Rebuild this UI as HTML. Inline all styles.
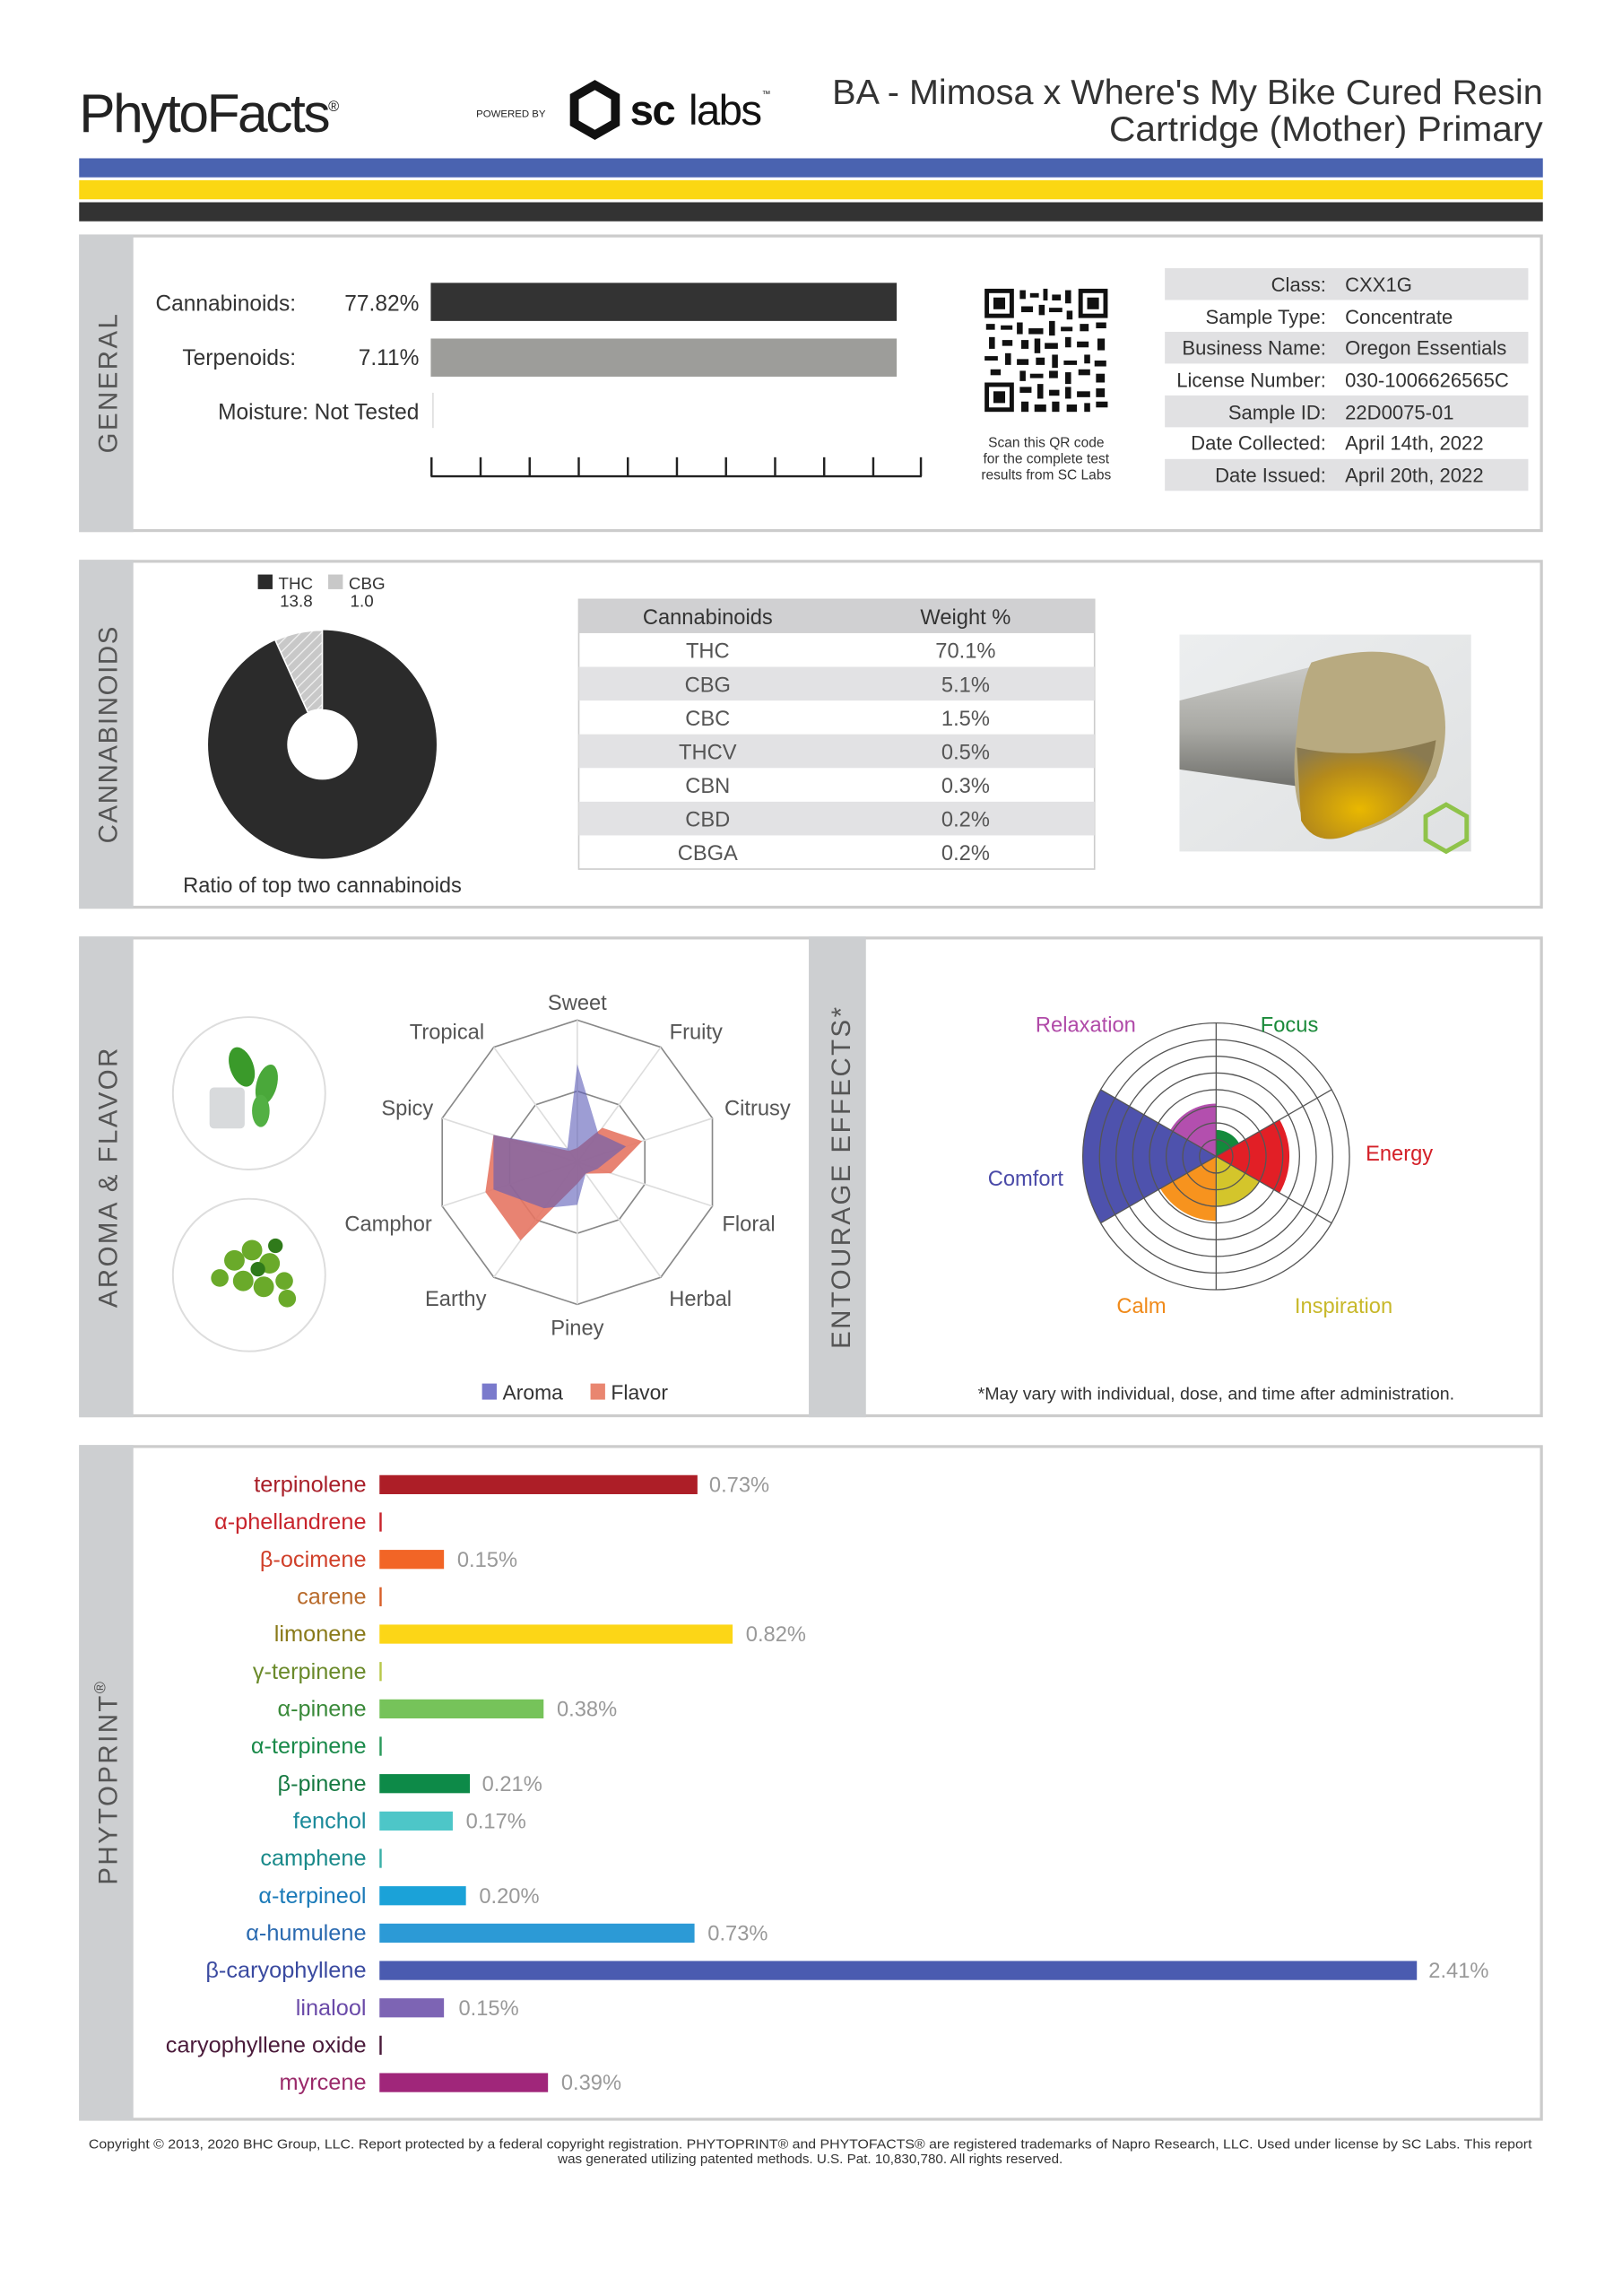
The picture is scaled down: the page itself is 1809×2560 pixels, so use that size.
<!DOCTYPE html>
<html><head><meta charset="utf-8"><style>
html,body{margin:0;padding:0;background:#fff;width:1809px;height:2560px;overflow:hidden}
svg{display:block}
text{font-family:"Liberation Sans",sans-serif}
</style></head><body>
<svg width="1809" height="2560" viewBox="0 0 1107 1566.6" preserveAspectRatio="none" xmlns="http://www.w3.org/2000/svg">
<defs>
<pattern id="hatch" width="5" height="5" patternUnits="userSpaceOnUse" patternTransform="rotate(45)">
<rect width="5" height="5" fill="#c8c8c8"/><line x1="0" y1="0" x2="0" y2="5" stroke="#f2f2f2" stroke-width="1.5"/></pattern>
<linearGradient id="bg" x1="0" y1="0" x2="1" y2="1"><stop offset="0" stop-color="#eceeef"/><stop offset="1" stop-color="#dfe1e2"/></linearGradient>
<linearGradient id="metal" x1="0" y1="0" x2="0" y2="1"><stop offset="0" stop-color="#c9c9c6"/><stop offset=".5" stop-color="#a9a9a4"/><stop offset="1" stop-color="#6c6c68"/></linearGradient>
<radialGradient id="resin" cx=".45" cy=".7" r=".7"><stop offset="0" stop-color="#e9b800"/><stop offset=".6" stop-color="#b58a1a"/><stop offset="1" stop-color="#8a7a50"/></radialGradient>
</defs>
<rect width="1107" height="1566.6" fill="#fff"/>

<!-- header -->
<text x="54" y="90" font-size="37" fill="#222" letter-spacing="-1.5">PhytoFacts<tspan font-size="10" dy="-14">®</tspan></text>
<text x="325" y="80" font-size="7" fill="#222">POWERED BY</text>
<polygon points="406,58 420,66 420,84 406,92 392,84 392,66" fill="none" stroke="#111" stroke-width="6"/>
<text x="430" y="85" font-size="29" fill="#111" font-weight="bold" letter-spacing="-1">sc</text>
<text x="470" y="85" font-size="29" fill="#111" letter-spacing="-1">labs</text>
<text x="520" y="66" font-size="6" fill="#111">™</text>
<text x="1053" y="71" font-size="24" fill="#333" text-anchor="end" textLength="485" lengthAdjust="spacingAndGlyphs">BA - Mimosa x Where's My Bike Cured Resin</text>
<text x="1053" y="96" font-size="24" fill="#333" text-anchor="end" textLength="296" lengthAdjust="spacingAndGlyphs">Cartridge (Mother) Primary</text>
<rect x="54" y="108" width="999" height="13" fill="#4a63b0"/>
<rect x="54" y="123" width="999" height="13" fill="#fbd713"/>
<rect x="54" y="138" width="999" height="13" fill="#333"/>

<!-- GENERAL -->
<rect x="55" y="161" width="997" height="201" fill="#fff" stroke="#ccc" stroke-width="2"/>
<rect x="54" y="160" width="37" height="203" fill="#cdcfd1"/>
<text transform="translate(80,261) rotate(-90)" font-size="18" fill="#555" text-anchor="middle" letter-spacing="1.5">GENERAL</text>
<g font-size="15" fill="#333">
<text x="202" y="212" text-anchor="end">Cannabinoids:</text><text x="286" y="212" text-anchor="end">77.82%</text>
<text x="202" y="249" text-anchor="end">Terpenoids:</text><text x="286" y="249" text-anchor="end">7.11%</text>
<text x="286" y="286" text-anchor="end">Moisture:  Not Tested</text>
</g>
<rect x="294" y="193" width="318" height="26" fill="#333"/>
<rect x="294" y="231" width="318" height="26" fill="#9d9d9a"/>
<line x1="295.5" y1="268" x2="295.5" y2="292" stroke="#ddd" stroke-width="1"/>
<g stroke="#222" stroke-width="1.5">
<line x1="294" y1="325" x2="629" y2="325"/>
<line x1="294.5" y1="312" x2="294.5" y2="325"/><line x1="328" y1="312" x2="328" y2="325"/><line x1="361.5" y1="312" x2="361.5" y2="325"/><line x1="395" y1="312" x2="395" y2="325"/><line x1="428.5" y1="312" x2="428.5" y2="325"/><line x1="462" y1="312" x2="462" y2="325"/><line x1="495.5" y1="312" x2="495.5" y2="325"/><line x1="529" y1="312" x2="529" y2="325"/><line x1="562.5" y1="312" x2="562.5" y2="325"/><line x1="596" y1="312" x2="596" y2="325"/><line x1="628.5" y1="312" x2="628.5" y2="325"/>
</g>
<!-- QR -->
<g fill="#111">
<rect x="672" y="197" width="84" height="84" fill="#fff"/>
<rect x="672" y="197" width="20" height="20"/><rect x="675" y="200" width="14" height="14" fill="#fff"/><rect x="678" y="203" width="8" height="8"/>
<rect x="736" y="197" width="20" height="20"/><rect x="739" y="200" width="14" height="14" fill="#fff"/><rect x="742" y="203" width="8" height="8"/>
<rect x="672" y="261" width="20" height="20"/><rect x="675" y="264" width="14" height="14" fill="#fff"/><rect x="678" y="267" width="8" height="8"/>
<rect x="696" y="198" width="4" height="6"/><rect x="703" y="200" width="6" height="3"/><rect x="712" y="197" width="3" height="8"/><rect x="718" y="201" width="6" height="4"/><rect x="727" y="198" width="4" height="9"/>
<rect x="697" y="209" width="8" height="4"/><rect x="709" y="208" width="4" height="7"/><rect x="716" y="210" width="9" height="3"/><rect x="728" y="212" width="4" height="6"/>
<rect x="673" y="221" width="6" height="4"/><rect x="683" y="222" width="8" height="3"/><rect x="694" y="220" width="4" height="8"/><rect x="702" y="224" width="10" height="4"/><rect x="716" y="219" width="4" height="10"/><rect x="724" y="223" width="8" height="3"/><rect x="737" y="221" width="6" height="5"/><rect x="748" y="220" width="7" height="4"/>
<rect x="675" y="230" width="4" height="8"/><rect x="684" y="232" width="7" height="4"/><rect x="697" y="232" width="5" height="6"/><rect x="706" y="231" width="4" height="10"/><rect x="713" y="234" width="9" height="4"/><rect x="727" y="230" width="4" height="7"/><rect x="735" y="233" width="8" height="4"/><rect x="749" y="231" width="5" height="8"/>
<rect x="672" y="243" width="9" height="3"/><rect x="686" y="241" width="4" height="8"/><rect x="694" y="245" width="8" height="4"/><rect x="707" y="244" width="6" height="5"/><rect x="718" y="242" width="4" height="9"/><rect x="726" y="246" width="9" height="3"/><rect x="740" y="242" width="4" height="6"/><rect x="747" y="246" width="8" height="4"/>
<rect x="676" y="252" width="7" height="4"/><rect x="696" y="253" width="4" height="7"/><rect x="703" y="255" width="9" height="3"/><rect x="716" y="253" width="6" height="5"/><rect x="727" y="254" width="4" height="8"/><rect x="736" y="252" width="8" height="4"/><rect x="748" y="255" width="6" height="6"/>
<rect x="696" y="264" width="8" height="4"/><rect x="708" y="262" width="4" height="10"/><rect x="716" y="266" width="7" height="4"/><rect x="727" y="264" width="4" height="8"/><rect x="735" y="267" width="9" height="4"/><rect x="748" y="265" width="6" height="6"/>
<rect x="697" y="274" width="5" height="7"/><rect x="706" y="276" width="8" height="5"/><rect x="718" y="274" width="5" height="7"/><rect x="728" y="276" width="7" height="5"/><rect x="740" y="275" width="4" height="6"/><rect x="748" y="274" width="8" height="4"/>
</g>
<g font-size="9.5" fill="#333" text-anchor="middle">
<text x="714" y="305">Scan this QR code</text><text x="714" y="316">for the complete test</text><text x="714" y="327">results from SC Labs</text>
</g>
<!-- info table -->
<rect x="795" y="183" width="248" height="21.7" fill="#e1e1e3"/>
<rect x="795" y="226.4" width="248" height="21.7" fill="#e1e1e3"/>
<rect x="795" y="269.8" width="248" height="21.7" fill="#e1e1e3"/>
<rect x="795" y="313.2" width="248" height="21.7" fill="#e1e1e3"/>
<g font-size="13.5" fill="#333">
<text x="905" y="199" text-anchor="end">Class:</text><text x="918" y="199">CXX1G</text>
<text x="905" y="221" text-anchor="end">Sample Type:</text><text x="918" y="221">Concentrate</text>
<text x="905" y="242" text-anchor="end">Business Name:</text><text x="918" y="242">Oregon Essentials</text>
<text x="905" y="264" text-anchor="end">License Number:</text><text x="918" y="264">030-1006626565C</text>
<text x="905" y="286" text-anchor="end">Sample ID:</text><text x="918" y="286">22D0075-01</text>
<text x="905" y="307" text-anchor="end">Date Collected:</text><text x="918" y="307">April 14th, 2022</text>
<text x="905" y="329" text-anchor="end">Date Issued:</text><text x="918" y="329">April 20th, 2022</text>
</g>

<!-- CANNABINOIDS -->
<rect x="55" y="383" width="997" height="236" fill="#fff" stroke="#ccc" stroke-width="2"/>
<rect x="54" y="382" width="37" height="238" fill="#cdcfd1"/>
<text transform="translate(80,501) rotate(-90)" font-size="18" fill="#555" text-anchor="middle" letter-spacing="1">CANNABINOIDS</text>
<rect x="176" y="392" width="10" height="10" fill="#2b2b2b"/>
<text x="190" y="402" font-size="11.5" fill="#333">THC</text>
<text x="191" y="414" font-size="11.5" fill="#333">13.8</text>
<rect x="224" y="392" width="10" height="10" fill="#c8c8c8"/>
<text x="238" y="402" font-size="11.5" fill="#333">CBG</text>
<text x="239" y="414" font-size="11.5" fill="#333">1.0</text>
<circle cx="220" cy="508" r="51" fill="none" stroke="#2b2b2b" stroke-width="54"/>
<path d="M220,430 A78,78 0 0 0 187.9,436.9 L210.1,486.1 A24,24 0 0 1 220,484 Z" fill="url(#hatch)" stroke="#fff" stroke-width="1"/>
<text x="220" y="609" font-size="14.5" fill="#333" text-anchor="middle">Ratio of top two cannabinoids</text>
<!-- table -->
<rect x="395" y="409" width="352" height="184" fill="#fff" stroke="#ccc" stroke-width="1"/>
<rect x="395" y="409" width="352" height="23" fill="#d0d0d2"/>
<rect x="395" y="455" width="352" height="23" fill="#e2e2e4"/>
<rect x="395" y="501" width="352" height="23" fill="#e2e2e4"/>
<rect x="395" y="547" width="352" height="23" fill="#e2e2e4"/>
<g font-size="14.5" fill="#333" text-anchor="middle">
<text x="483" y="426">Cannabinoids</text><text x="659" y="426">Weight %</text>
</g>
<g font-size="14.5" fill="#555" text-anchor="middle">
<text x="483" y="449">THC</text><text x="659" y="449">70.1%</text>
<text x="483" y="472">CBG</text><text x="659" y="472">5.1%</text>
<text x="483" y="495">CBC</text><text x="659" y="495">1.5%</text>
<text x="483" y="518">THCV</text><text x="659" y="518">0.5%</text>
<text x="483" y="541">CBN</text><text x="659" y="541">0.3%</text>
<text x="483" y="564">CBD</text><text x="659" y="564">0.2%</text>
<text x="483" y="587">CBGA</text><text x="659" y="587">0.2%</text>
</g>
<!-- photo -->
<rect x="805" y="433" width="199" height="148" fill="url(#bg)"/>
<path d="M805,478 L895,455 L910,540 L805,525 Z" fill="url(#metal)"/>
<path d="M895,452 Q945,436 975,455 Q995,490 980,530 Q960,560 925,568 Q900,580 890,560 Q880,540 885,500 Q888,465 895,452 Z" fill="#b8aa80"/>
<path d="M885,510 Q930,520 980,505 Q975,550 930,565 Q900,582 888,560 Z" fill="url(#resin)"/>
<polygon points="987,549 1001,557 1001,573 987,581 973,573 973,557" fill="none" stroke="#8fc34a" stroke-width="3"/>

<!-- AROMA & FLAVOR -->
<rect x="55" y="640" width="997" height="326" fill="#fff" stroke="#ccc" stroke-width="2"/>
<rect x="54" y="639" width="37" height="328" fill="#cdcfd1"/>
<rect x="552" y="639" width="39" height="328" fill="#cdcfd1"/>
<text transform="translate(80,803) rotate(-90)" font-size="18" fill="#555" text-anchor="middle" letter-spacing="1.5">AROMA &amp; FLAVOR</text>
<text transform="translate(580,803) rotate(-90)" font-size="18" fill="#555" text-anchor="middle" letter-spacing="1.5">ENTOURAGE EFFECTS*</text>
<circle cx="170" cy="746" r="52" fill="#fff" stroke="#ddd" stroke-width="1.2"/>
<circle cx="170" cy="870" r="52" fill="#fff" stroke="#ddd" stroke-width="1.2"/>
<rect x="143" y="742" width="24" height="28" fill="#d8dadc" rx="3"/>
<ellipse cx="165" cy="728" rx="8" ry="14" fill="#3a9a2a" transform="rotate(-20 165 728)"/>
<ellipse cx="182" cy="740" rx="7" ry="14" fill="#4aa83a" transform="rotate(15 182 740)"/>
<ellipse cx="178" cy="758" rx="6" ry="11" fill="#52b043"/>
<g fill="#6aaa2a"><circle cx="160" cy="860" r="7"/><circle cx="172" cy="853" r="7"/><circle cx="184" cy="862" r="7"/><circle cx="166" cy="874" r="7"/><circle cx="180" cy="878" r="7"/><circle cx="194" cy="874" r="6"/><circle cx="150" cy="872" r="6"/><circle cx="196" cy="886" r="6"/></g>
<g fill="#2f7a1a"><circle cx="176" cy="866" r="5"/><circle cx="188" cy="850" r="5"/></g>
<!-- radar -->
<g fill="none" stroke="#888" stroke-width="1">
<polygon points="394,696 451,714.5 486.2,763 486.2,823 451,871.5 394,890 337,871.5 301.8,823 301.8,763 337,714.5"/>
<polygon points="394,744.5 422.5,753.8 440.1,778 440.1,808 422.5,832.2 394,841.5 365.5,832.2 347.9,808 347.9,778 365.5,753.8"/>
</g>
<g stroke="#ddd" stroke-width="1">
<line x1="394" y1="696" x2="394" y2="890"/><line x1="451" y1="714.5" x2="337" y2="871.5"/><line x1="486.2" y1="763" x2="301.8" y2="823"/><line x1="486.2" y1="823" x2="301.8" y2="763"/><line x1="451" y1="871.5" x2="337" y2="714.5"/>
</g>
<polygon points="394,783.3 411.1,769.5 438.3,778.6 417.1,800.5 399.7,800.8 394,807.6 355.2,846.4 331.3,813.4 336.8,774.4 388.3,785.2" fill="#e57563" opacity=".9"/>
<polygon points="394,726.1 408.3,773.4 427.2,782.2 407.8,797.5 399.7,800.8 394,822.1 371.2,824.4 336.8,811.6 336.8,774.4 387.2,783.6" fill="#5c5cb8" opacity=".6"/>
<g font-size="14.5" fill="#555" text-anchor="middle">
<text x="394" y="689">Sweet</text><text x="475" y="709">Fruity</text><text x="517" y="761">Citrusy</text><text x="511" y="840">Floral</text>
<text x="478" y="891">Herbal</text><text x="394" y="911">Piney</text><text x="311" y="891">Earthy</text><text x="265" y="840">Camphor</text>
<text x="278" y="761">Spicy</text><text x="305" y="709">Tropical</text>
</g>
<rect x="329" y="944" width="10" height="11" fill="#7a7acc"/><text x="343" y="955" font-size="14" fill="#333">Aroma</text>
<rect x="403" y="944" width="10" height="11" fill="#e98670"/><text x="417" y="955" font-size="14" fill="#333">Flavor</text>
<!-- entourage -->
<path d="M830,789 L830,771 A18,18 0 0 1 845.6,780 Z" fill="#138a3c"/>
<path d="M830,789 L873.3,764 A50,50 0 0 1 873.3,814 Z" fill="#e21f26"/>
<path d="M830,789 L859.4,806 A34,34 0 0 1 830,823 Z" fill="#d4c52b"/>
<path d="M830,789 L830,833 A44,44 0 0 1 791.9,811 Z" fill="#f7931e"/>
<path d="M830,789 L751.2,834.5 A91,91 0 0 1 751.2,743.5 Z" fill="#4e52ad"/>
<path d="M830,789 L798.8,771 A36,36 0 0 1 830,753 Z" fill="#b34fae"/>
<g fill="none" stroke="#555" stroke-width=".8">
<circle cx="830" cy="789" r="11.4"/><circle cx="830" cy="789" r="22.8"/><circle cx="830" cy="789" r="34.1"/><circle cx="830" cy="789" r="45.5"/><circle cx="830" cy="789" r="56.9"/><circle cx="830" cy="789" r="68.3"/><circle cx="830" cy="789" r="79.6"/><circle cx="830" cy="789" r="91"/>
<line x1="830" y1="698" x2="830" y2="880"/><line x1="751.2" y1="743.5" x2="908.8" y2="834.5"/><line x1="751.2" y1="834.5" x2="908.8" y2="743.5"/>
</g>
<g font-size="14.5" text-anchor="middle">
<text x="741" y="704" fill="#b04aa8">Relaxation</text><text x="880" y="704" fill="#1a8a3a">Focus</text>
<text x="955" y="792" fill="#d42028">Energy</text><text x="700" y="809" fill="#4a4aa8">Comfort</text>
<text x="779" y="896" fill="#f08a1a">Calm</text><text x="917" y="896" fill="#c8b82a">Inspiration</text>
</g>
<text x="830" y="955" font-size="12" fill="#333" text-anchor="middle">*May vary with individual, dose, and time after administration.</text>

<!-- PHYTOPRINT -->
<rect x="55" y="987" width="997" height="459" fill="#fff" stroke="#ccc" stroke-width="2"/>
<rect x="54" y="986" width="37" height="461" fill="#cdcfd1"/>
<text transform="translate(80,1216) rotate(-90)" font-size="18" fill="#555" text-anchor="middle" letter-spacing="1.5">PHYTOPRINT<tspan font-size="11" dy="-8">®</tspan></text>
<g font-size="15.5" text-anchor="end">
<text x="250" y="1018" fill="#a81e28">terpinolene</text>
<text x="250" y="1043.5" fill="#c8242c">α-phellandrene</text>
<text x="250" y="1069" fill="#d0402a">β-ocimene</text>
<text x="250" y="1094.5" fill="#b86a2a">carene</text>
<text x="250" y="1120" fill="#8a7a1a">limonene</text>
<text x="250" y="1145.5" fill="#6a8a2a">γ-terpinene</text>
<text x="250" y="1171" fill="#3a8a3a">α-pinene</text>
<text x="250" y="1196.5" fill="#1a8a4a">α-terpinene</text>
<text x="250" y="1222" fill="#177a42">β-pinene</text>
<text x="250" y="1247.5" fill="#1a8a9a">fenchol</text>
<text x="250" y="1273" fill="#1a8a8a">camphene</text>
<text x="250" y="1298.5" fill="#1a7ab8">α-terpineol</text>
<text x="250" y="1324" fill="#2a6ab0">α-humulene</text>
<text x="250" y="1349.5" fill="#3a4aa0">β-caryophyllene</text>
<text x="250" y="1375" fill="#6a4aa8">linalool</text>
<text x="250" y="1400.5" fill="#4a1a3a">caryophyllene oxide</text>
<text x="250" y="1426" fill="#9a2a6a">myrcene</text>
</g>
<rect x="259" y="1006.5" width="217" height="13" fill="#ad1e27"/>
<rect x="259" y="1032" width="1.5" height="13" fill="#c8242c"/>
<rect x="259" y="1057.5" width="44" height="13" fill="#f26526"/>
<rect x="259" y="1083" width="1.5" height="13" fill="#d8602a"/>
<rect x="259" y="1108.5" width="241" height="13" fill="#fcd617"/>
<rect x="259" y="1134" width="1.5" height="13" fill="#b8c84a"/>
<rect x="259" y="1159.5" width="112" height="13" fill="#76c35a"/>
<rect x="259" y="1185" width="1.5" height="13" fill="#2a9a5a"/>
<rect x="259" y="1210.5" width="61.7" height="13" fill="#0d8a48"/>
<rect x="259" y="1236" width="50" height="13" fill="#4dc6c8"/>
<rect x="259" y="1261.5" width="1.5" height="13" fill="#3ab0a8"/>
<rect x="259" y="1287" width="59" height="13" fill="#1ba2d8"/>
<rect x="259" y="1312.5" width="215" height="13" fill="#2c9ad6"/>
<rect x="259" y="1338" width="708" height="13" fill="#4a5bb0"/>
<rect x="259" y="1363.5" width="44" height="13" fill="#7d64b4"/>
<rect x="259" y="1389" width="1.5" height="13" fill="#4a1a3a"/>
<rect x="259" y="1414.5" width="115" height="13" fill="#a0267a"/>
<g font-size="14.5" fill="#999">
<text x="484" y="1018">0.73%</text>
<text x="312" y="1069">0.15%</text>
<text x="509" y="1120">0.82%</text>
<text x="380" y="1171">0.38%</text>
<text x="329" y="1222">0.21%</text>
<text x="318" y="1247.5">0.17%</text>
<text x="327" y="1298.5">0.20%</text>
<text x="483" y="1324">0.73%</text>
<text x="975" y="1349.5">2.41%</text>
<text x="313" y="1375">0.15%</text>
<text x="383" y="1426">0.39%</text>
</g>
<g font-size="9.3" fill="#333" text-anchor="middle">
<text x="553" y="1466" textLength="985" lengthAdjust="spacingAndGlyphs">Copyright © 2013, 2020 BHC Group, LLC. Report protected by a federal copyright registration. PHYTOPRINT® and PHYTOFACTS® are registered trademarks of Napro Research, LLC. Used under license by SC Labs. This report</text>
<text x="553" y="1476">was generated utilizing patented methods. U.S. Pat. 10,830,780. All rights reserved.</text>
</g>
</svg>
</body></html>
